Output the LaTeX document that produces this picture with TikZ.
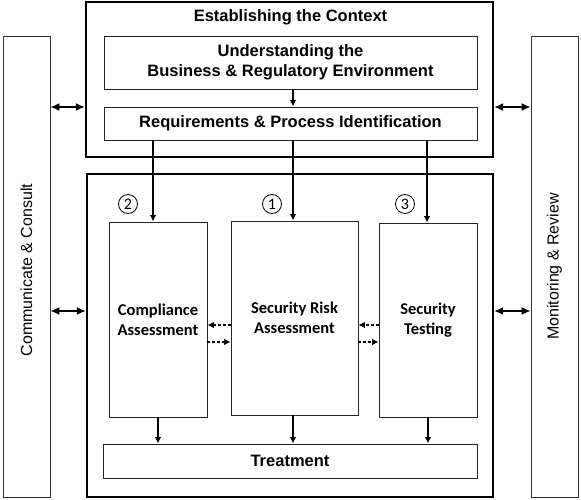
\documentclass[tikz,border=0pt]{standalone}
\usepackage{fontspec}
\setmainfont{Liberation Sans}
\newfontfamily\calfont{Carlito}
\usetikzlibrary{arrows.meta,calc}
\tikzset{
  side/.style={draw=black!80, line width=0.8pt, inner sep=0pt, font=\fontsize{16}{19}\selectfont},
  outer/.style={draw, line width=2.4pt, inner sep=0pt},
  inbox/.style={draw=black!85, line width=0.9pt, inner sep=0pt, font=\bfseries\fontsize{16.5}{20}\selectfont, align=center},
  assess/.style={draw=black!85, line width=0.9pt, inner sep=0pt, font=\calfont\bfseries\fontsize{16.5}{20}\selectfont, align=center},
  num/.style={draw, circle, line width=0.8pt, minimum size=19pt, inner sep=0pt, font=\calfont\fontsize{16}{18}\selectfont},
  arr/.style={line width=1.3pt, -{Latex[length=6.5pt,width=6.5pt]}},
  darr/.style={line width=1.5pt, {Latex[length=9pt,width=8pt]}-{Latex[length=9pt,width=8pt]}},
  dash arr/.style={line width=1.1pt, dashed, dash pattern=on 3pt off 2pt, -{Latex[length=6.5pt,width=6.5pt]}}
}
\begin{document}
\begin{tikzpicture}[x=1pt,y=-1pt]
\useasboundingbox (0,0) rectangle (581,500);
\fill[white] (0,0) rectangle (581,500);
% side boxes
\node[side, minimum width=47pt, minimum height=461pt] (left) at (26.5,266.5) {};
\node[rotate=90, font=\fontsize{16}{19}\selectfont] (lefttxt) at (26.5,270) {Communicate \& Consult};
\node[side, minimum width=47pt, minimum height=461pt] (right) at (554.5,266.5) {};
\node[rotate=90, font=\fontsize{16}{19}\selectfont] (righttxt) at (554.5,266.5) {Monitoring \& Review};
% top outer
\node[outer, minimum width=407pt, minimum height=155pt] (top) at (289.5,79.5) {};
\node[font=\bfseries\fontsize{16.5}{20}\selectfont] (title) at (290.5,17.5) {Establishing the Context};
\node[inbox, minimum width=373pt, minimum height=53pt] (under) at (290.5,62.5) {Understanding the\\Business \& Regulatory Environment};
\node[inbox, minimum width=373pt, minimum height=33pt] (req) at (290.5,123.5) {Requirements \& Process Identification};
% bottom outer
\node[outer, minimum width=406pt, minimum height=323pt] (bot) at (290,335.5) {};
\node[assess, minimum width=98pt, minimum height=195pt] (comp) at (158,319.5) {Compliance\\Assessment};
\node[assess, minimum width=127pt, minimum height=194pt] (risk) at (294.5,318) {Security Risk\\Assessment};
\node[assess, minimum width=98pt, minimum height=194pt] (test) at (428,320) {Security\\Testing};
\node[inbox, minimum width=374pt, minimum height=34pt] (treat) at (290,461) {Treatment};
\node[num] (n2) at (128,204) {2};
\node[num] (n1) at (272,204) {1};
\node[num] (n3) at (405,204) {3};
% arrows
\draw[arr] (under.south -| 293,0) -- (req.north -| 293,0);
\draw[arr] (req.south -| 153,0) -- (comp.north -| 153,0);
\draw[arr] (req.south -| 293,0) -- (risk.north -| 293,0);
\draw[arr] (req.south -| 427,0) -- (test.north -| 427,0);
\draw[arr] (comp.south -| 158,0) -- (treat.north -| 158,0);
\draw[arr] (risk.south -| 293,0) -- (treat.north -| 293,0);
\draw[arr] (test.south -| 428,0) -- (treat.north -| 428,0);
\draw[dash arr] (risk.west |- 0,325) -- (comp.east |- 0,325);
\draw[dash arr] (comp.east |- 0,342) -- (risk.west |- 0,342);
\draw[dash arr] (test.west |- 0,325) -- (risk.east |- 0,325);
\draw[dash arr] (risk.east |- 0,342) -- (test.west |- 0,342);
\draw[darr] (left.east |- 0,107) -- (top.west |- 0,107);
\draw[darr] (left.east |- 0,311) -- (bot.west |- 0,311);
\draw[darr] (top.east |- 0,107) -- (right.west |- 0,107);
\draw[darr] (bot.east |- 0,311) -- (right.west |- 0,311);
\end{tikzpicture}
\end{document}
